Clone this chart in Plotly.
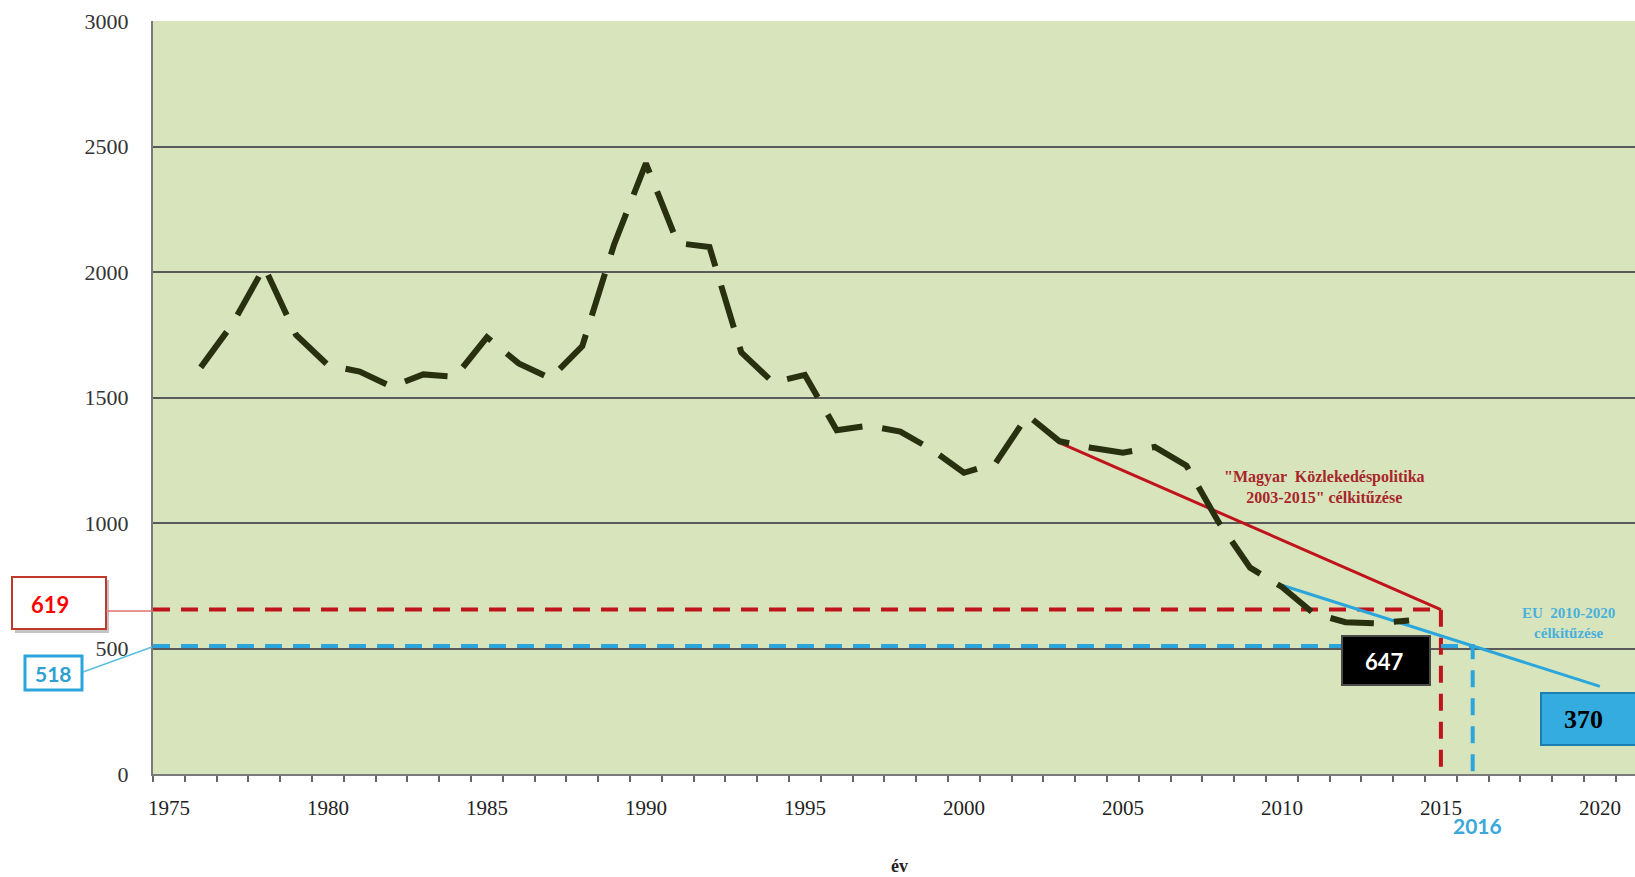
import plotly.graph_objects as go

# ---- data ----
years = list(range(1976, 2015))
deaths = [1620, 1793, 2020, 1749, 1629, 1603, 1543, 1592, 1582, 1740,
          1636, 1576, 1705, 2110, 2433, 2115, 2100, 1680, 1560, 1590,
          1370, 1388, 1364, 1292, 1200, 1239, 1429, 1326, 1300, 1280,
          1303, 1228, 1005, 822, 745, 640, 605, 600, 612]

hu_target_years = [2003, 2015]
hu_target_vals = [1320, 655]
eu_target_years = [2010, 2020]
eu_target_vals = [752, 349]

hu_level = 655      # drawn level of the red dashed guide
eu_level = 510      # drawn level of the blue dashed guide
hu_year = 2015
eu_year = 2016
axis_start = 1974.5

x_tick_vals = [1975, 1980, 1985, 1990, 1995, 2000, 2005, 2010, 2015, 2020]
x_tick_text = [str(v) for v in x_tick_vals]
y_tick_vals = [0, 500, 1000, 1500, 2000, 2500, 3000]

label_hu = "619"
label_eu = "518"
label_last = "647"
label_eu_end = "370"
label_eu_year = "2016"
note_hu = "\"Magyar  Közlekedéspolitika<br>2003-2015\" célkitűzése"
note_eu = "EU  2010-2020<br>célkitűzése"
x_title = "év"

# ---- layout geometry (pixels) ----
W, H = 1635, 877
L, R, T, B = 153, 1635, 21, 774
def px(x):
    return (x - L) / (R - L)
def py(y):
    return (B - y) / (B - T)

RED = "#c0141c"
BLUE = "#2aa6dc"
SERIF = "Liberation Serif"
SANS = "Lato"

fig = go.Figure()

# dashed guides
fig.add_trace(go.Scatter(x=[axis_start, hu_year, hu_year], y=[hu_level, hu_level, 0],
                         mode="lines", line=dict(color=RED, width=4, dash="17px,11px"),
                         hoverinfo="skip"))
fig.add_trace(go.Scatter(x=[axis_start, eu_year, eu_year], y=[eu_level, eu_level, 0],
                         mode="lines", line=dict(color=BLUE, width=4, dash="17px,11px"),
                         hoverinfo="skip"))
# target lines
fig.add_trace(go.Scatter(x=hu_target_years, y=hu_target_vals, mode="lines",
                         line=dict(color=RED, width=3), hoverinfo="skip"))
fig.add_trace(go.Scatter(x=eu_target_years, y=eu_target_vals, mode="lines",
                         line=dict(color=BLUE, width=3), hoverinfo="skip"))
# main series
fig.add_trace(go.Scatter(x=years, y=deaths, mode="lines",
                         line=dict(color="#283010", width=6, dash="44px,20px"),
                         hoverinfo="x+y"))

shapes = []
annotations = []

def label(x, y, text, family, size, color):
    annotations.append(dict(xref="paper", yref="paper", x=px(x), y=py(y), text=text,
                            xanchor="center", yanchor="middle", showarrow=False,
                            align="center", font=dict(family=family, size=size, color=color)))

# 619 box
shapes.append(dict(type="rect", xref="paper", yref="paper",
                   x0=px(15), x1=px(109), y0=py(633), y1=py(580),
                   fillcolor="#c4c4c4", line=dict(width=0), layer="above"))
shapes.append(dict(type="rect", xref="paper", yref="paper",
                   x0=px(12), x1=px(106), y0=py(629), y1=py(577),
                   fillcolor="white", line=dict(color="#c0392b", width=2), layer="above"))
shapes.append(dict(type="line", xref="paper", yref="paper",
                   x0=px(106), x1=px(153), y0=py(611), y1=py(611),
                   line=dict(color="#e07070", width=1.5)))
label(50, 604, f"<b>{label_hu}</b>", SANS, 22, "#ff0000")

# 518 box
shapes.append(dict(type="rect", xref="paper", yref="paper",
                   x0=px(25), x1=px(82), y0=py(690), y1=py(656),
                   fillcolor="white", line=dict(color=BLUE, width=3), layer="above"))
shapes.append(dict(type="line", xref="paper", yref="paper",
                   x0=px(83), x1=px(152), y0=py(672), y1=py(647),
                   line=dict(color="#5bbfe0", width=1.5)))
label(53.5, 673, f"<b>{label_eu}</b>", SANS, 21, "#2e9fd0")

# 647 box
shapes.append(dict(type="rect", xref="paper", yref="paper",
                   x0=px(1342), x1=px(1430), y0=py(685), y1=py(636),
                   fillcolor="#000000", line=dict(color="#4a4a4a", width=2), layer="above"))
label(1384, 661, f"<b>{label_last}</b>", SANS, 22, "white")

# 370 box
shapes.append(dict(type="rect", xref="paper", yref="paper",
                   x0=px(1541), x1=px(1640), y0=py(745), y1=py(693),
                   fillcolor="#35ace0", line=dict(color="#1b7fb0", width=2), layer="above"))
label(1583, 719, f"<b>{label_eu_end}</b>", SERIF, 26, "#000000")

# 2016 label
label(1477, 825, f"<b>{label_eu_year}</b>", SANS, 21, "#3aa8d8")

# notes
label(1324, 487, f"<b>{note_hu}</b>", SERIF, 16, "#a8262a")
label(1568, 623, f"<b>{note_eu}</b>", SERIF, 15, "#4ab0dc")

# axis title
label(899, 866, f"<b>{x_title}</b>", SERIF, 18, "#222")

fig.update_layout(
    width=W, height=H,
    margin=dict(l=L, r=W - R, t=T, b=H - B, pad=0),
    paper_bgcolor="white",
    plot_bgcolor="#d8e4bc",
    showlegend=False,
    shapes=shapes,
    annotations=annotations,
    xaxis=dict(
        range=[axis_start, axis_start + (R - L) / 31.8],
        tickvals=x_tick_vals, ticktext=x_tick_text, ticks="",
        ticklabelstandoff=14,
        tickfont=dict(family=SERIF, size=21, color="#222"),
        showgrid=False, zeroline=False,
        showline=True, linecolor="#7a7a7a", linewidth=2,
        minor=dict(tick0=axis_start, dtick=1, ticks="outside", ticklen=6,
                   tickcolor="#666", tickwidth=1.5, showgrid=False),
        automargin=False,
    ),
    yaxis=dict(
        range=[0, 3000], tickvals=y_tick_vals, ticks="",
        ticklabelstandoff=18,
        tickfont=dict(family=SERIF, size=22, color="#333"),
        showgrid=True, gridcolor="#5a5a5a", gridwidth=1.5,
        zeroline=False,
        showline=True, linecolor="#7a7a7a", linewidth=2,
        automargin=False,
    ),
)

fig.write_html("out.html", config={"displayModeBar": False},
               post_script="document.body.style.margin='0';document.body.style.overflow='hidden';")
